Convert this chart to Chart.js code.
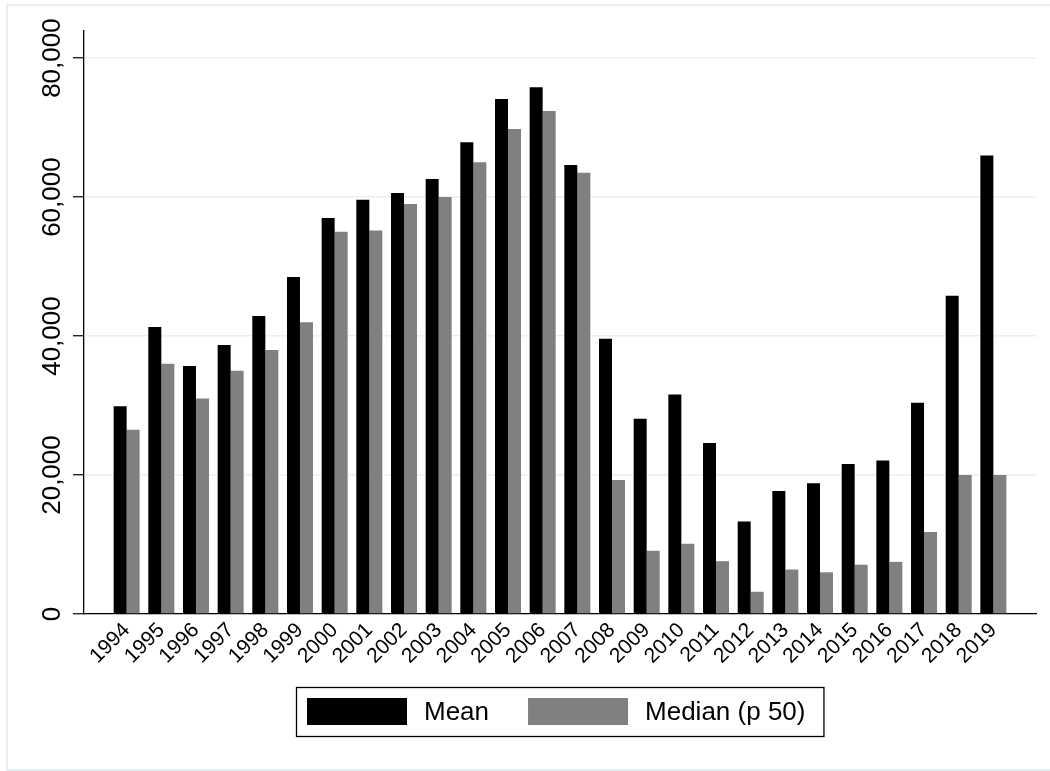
<!DOCTYPE html>
<html>
<head>
<meta charset="utf-8">
<title>Mean and median by year</title>
<script src="https://cdn.jsdelivr.net/npm/chart.js@4/dist/chart.umd.min.js"></script>
<style>
  html, body { margin: 0; padding: 0; background: #ffffff; }
  #wrap { width: 1050px; height: 771px; position: relative; }
</style>
</head>
<body>
<div id="wrap"><canvas id="chart"></canvas></div>
<script>
// Yearly values
const years = [1994, 1995, 1996, 1997, 1998, 1999, 2000, 2001, 2002, 2003, 2004, 2005, 2006,
               2007, 2008, 2009, 2010, 2011, 2012, 2013, 2014, 2015, 2016, 2017, 2018, 2019];
const meanValues = [29900, 41300, 35700, 38700, 42900, 48500, 57000, 59600, 60600, 62600, 67900, 74100, 75800,
                    64600, 39600, 28100, 31600, 24600, 13300, 17700, 18800, 21600, 22100, 30400, 45800, 66000];
const medianValues = [26500, 36000, 31000, 35000, 38000, 42000, 55000, 55200, 59000, 60000, 65000, 69800, 72400,
                      63500, 19300, 9100, 10100, 7600, 3200, 6400, 6000, 7100, 7500, 11800, 20000, 20000];
const yTicks = [0, 20000, 40000, 60000, 80000];
const seriesNames = ['Mean', 'Median (p 50)'];

const FONT = "'Liberation Sans', Arial, Helvetica, sans-serif";
const yearPad = 1.23; // empty space (in years) at both ends of the category axis

// Light outer frame around the whole graph region
const framePlugin = {
  id: 'frame',
  beforeDraw(chart) {
    const ctx = chart.ctx;
    ctx.save();
    ctx.fillStyle = '#ffffff';
    ctx.fillRect(0, 0, chart.width, chart.height);
    ctx.strokeStyle = '#e8eff1';
    ctx.lineWidth = 2;
    ctx.strokeRect(7, 5, chart.width + 20, chart.height - 6);
    ctx.restore();
  }
};

// Boxed legend centred under the plot region
const boxLegendPlugin = {
  id: 'boxLegend',
  afterDraw(chart) {
    const ctx = chart.ctx;
    const area = chart.chartArea;
    const sw = 100, sh = 27, gap = 17, itemGap = 39;
    const padL = 11, padR = 18, padV = 11;
    ctx.save();
    ctx.font = '26px ' + FONT;
    const items = chart.data.datasets.map(ds => ({
      text: ds.label, color: ds.backgroundColor, w: ctx.measureText(ds.label).width
    }));
    let total = padL + padR;
    items.forEach((it, i) => { total += sw + gap + it.w + (i ? itemGap : 0); });
    const cx = (area.left + area.right) / 2;
    const left = Math.round(cx - total / 2);
    const top = area.bottom + 73;
    const h = sh + 2 * padV;
    ctx.strokeStyle = '#000000';
    ctx.lineWidth = 1.3;
    ctx.strokeRect(left + 0.5, top + 0.5, total, h);
    let x = left + padL;
    ctx.textBaseline = 'middle';
    ctx.textAlign = 'left';
    items.forEach(it => {
      ctx.fillStyle = it.color;
      ctx.fillRect(x, top + padV, sw, sh);
      x += sw + gap;
      ctx.fillStyle = '#000000';
      ctx.fillText(it.text, x, top + padV + sh / 2 + 1);
      x += it.w + itemGap;
    });
    ctx.restore();
  }
};

new Chart(document.getElementById('chart'), {
  type: 'bar',
  data: {
    datasets: [
      {
        label: seriesNames[0],
        data: years.map((yr, i) => ({ x: yr, y: meanValues[i] })),
        backgroundColor: '#000000',
        borderWidth: 0
      },
      {
        label: seriesNames[1],
        data: years.map((yr, i) => ({ x: yr, y: medianValues[i] })),
        backgroundColor: '#808080',
        borderWidth: 0
      }
    ]
  },
  options: {
    responsive: true,
    maintainAspectRatio: false,
    animation: false,
    categoryPercentage: 0.75,
    barPercentage: 1.0,
    layout: { padding: { left: 0, top: 31, right: 14, bottom: 0 } },
    plugins: {
      legend: { display: false },
      tooltip: { enabled: false }
    },
    scales: {
      x: {
        type: 'linear',
        offset: false,
        min: years[0] - yearPad,
        max: years[years.length - 1] + yearPad,
        afterBuildTicks(scale) { scale.ticks = years.map(v => ({ value: v })); },
        afterFit(scale) { scale.height = 157; },
        grid: { display: false, drawTicks: false, offset: false },
        border: { display: true, color: '#000000', width: 1.3 },
        ticks: {
          autoSkip: false,
          minRotation: 45,
          maxRotation: 45,
          padding: 4,
          color: '#000000',
          font: { family: FONT, size: 21 },
          callback: v => String(v)
        }
      },
      y: {
        min: 0,
        max: 83900,
        afterBuildTicks(scale) { scale.ticks = yTicks.map(v => ({ value: v })); },
        afterFit(scale) { scale.width = 84; },
        grid: {
          color: '#e9f0f2',
          lineWidth: 1.5,
          drawTicks: true,
          tickLength: 11,
          tickColor: '#000000',
          tickWidth: 1.2
        },
        border: { display: true, color: '#000000', width: 1.3 },
        ticks: {
          minRotation: 90,
          maxRotation: 90,
          crossAlign: 'center',
          padding: -20,
          color: '#000000',
          font: { family: FONT, size: 26 },
          callback: v => v.toLocaleString('en-US')
        }
      }
    }
  },
  plugins: [framePlugin, boxLegendPlugin]
});
</script>
</body>
</html>
